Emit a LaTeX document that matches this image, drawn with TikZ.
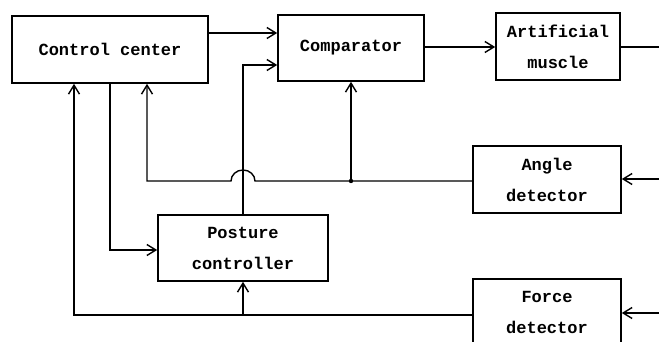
\documentclass[tikz,border=0pt]{standalone}
\usepackage{fontspec}
\newfontfamily\mono{Liberation Mono}
\usetikzlibrary{arrows.meta}
\tikzset{
  blk/.style={draw, line width=1.6pt, rectangle, inner sep=0pt, align=center,
    font=\mono\bfseries\fontsize{17}{31}\selectfont},
  arr/.style={-{Straight Barb[length=9pt,width=11pt]}},
  wire/.style={line width=1.4pt}
}
\begin{document}
\begin{tikzpicture}[x=1pt,y=-1pt,wire]
\clip (0,0) rectangle (659,342);
\fill[white] (0,0) rectangle (659,342);
\node[blk, minimum width=196pt, minimum height=67pt] (cc) at (110,49.5) {Control center};
\node[blk, minimum width=146pt, minimum height=66pt] (comp) at (351,48) {Comparator};
\node[blk, minimum width=124pt, minimum height=67pt] (am) at (558,46.5) {Artificial\\muscle};
\node[blk, minimum width=148pt, minimum height=67pt] (ad) at (547,179.5) {Angle\\detector};
\node[blk, minimum width=170pt, minimum height=66pt] (pc) at (243,248) {Posture\\controller};
\node[blk, minimum width=148pt, minimum height=67pt] (fd) at (547,312.5) {Force\\detector};
\coordinate (amout) at (659,47);
\coordinate (adin) at (659,179);
\coordinate (fdin) at (659,313);
\coordinate (jn) at (351,181);
% control center to comparator
\draw[arr] (cc.east |- 0,33) -- (comp.west |- 0,33);
% comparator to muscle
\draw[arr] (comp.east |- 0,47) -- (am.west |- 0,47);
\draw (am.east |- amout) -- (amout);
% detector inputs
\draw[arr] (adin) -- (ad.east |- adin);
\draw[arr] (fdin) -- (fd.east |- fdin);
% posture controller to comparator
\draw[arr] (pc.north) -- (pc.north |- 0,65) -- (comp.west |- 0,65);
% angle detector feedback with hump
\draw[arr] (ad.west |- jn) -- (255,181) arc[start angle=0, end angle=180, x radius=12pt, y radius=11pt]
  -- (147,181) -- (cc.south -| 147,0);
\draw[arr] (jn) -- (comp.south);
\fill (jn) circle (2.2pt);
% control center to posture controller
\draw[arr] (cc.south -| 110,0) -- (110,250) -- (pc.west |- 0,250);
% force detector feedback
\draw[arr] (fd.west |- 0,315) -- (74,315) -- (cc.south -| 74,0);
\draw[arr] (pc.south |- 0,315) -- (pc.south);
\end{tikzpicture}
\end{document}
